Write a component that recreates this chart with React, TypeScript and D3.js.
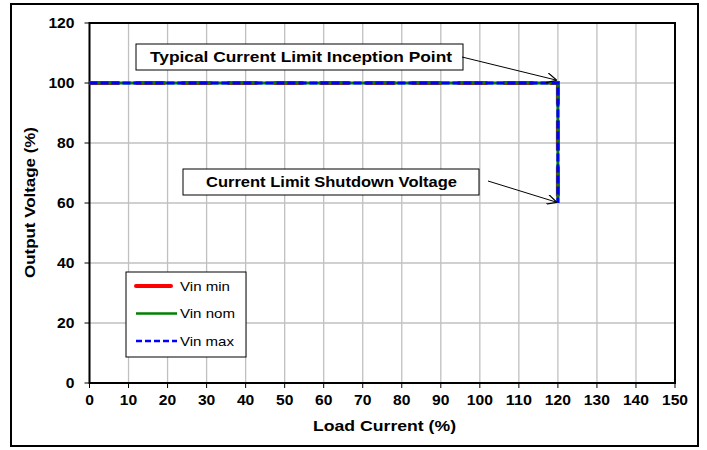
import * as d3 from "d3";

const xTicks = d3.range(0, 151, 10);
const yTicks = [0, 20, 40, 60, 80, 100, 120];

const loadCurrent = [0, 120, 120];
const vinMin = [100, 100, 60];
const vinNom = [100, 100, 60];
const vinMax = [100, 100, 60];

const seriesNames = ["Vin min", "Vin nom", "Vin max"];

const W = 707;
const H = 450;
const left = 89.5;
const right = 675;
const top = 23;
const bottom = 383;
const font = "'Liberation Sans', Arial, sans-serif";

export default function App() {
  const x = d3.scaleLinear().domain([0, 150]).range([left, right]);
  const y = d3.scaleLinear().domain([0, 120]).range([bottom, top]);
  const line = d3
    .line<number>()
    .x((_, i) => x(loadCurrent[i]))
    .y((d) => y(d));

  const styles = [
    { stroke: "#ff0000", width: 4, dash: "30,16" },
    { stroke: "#008000", width: 3, dash: "none" },
    { stroke: "#0000ff", width: 3, dash: "8,3" },
  ];
  const data = [vinMin, vinNom, vinMax];
  const legendLen = [50, 55, 54];

  return (
    <svg
      width={W}
      height={H}
      style={{ position: "absolute", left: 0, top: 0, fontFamily: font }}
    >
      <rect x={0} y={0} width={W} height={H} fill="#fff" />
      <rect x={11} y={4} width={687} height={442} fill="none" stroke="#000" strokeWidth={2} />

      {/* grid */}
      {xTicks.map((t) => (
        <line key={"gx" + t} x1={x(t)} x2={x(t)} y1={top} y2={bottom} stroke="#c0c0c0" strokeWidth={1.3} />
      ))}
      {yTicks.map((t) => (
        <line key={"gy" + t} x1={left} x2={right} y1={y(t)} y2={y(t)} stroke="#c0c0c0" strokeWidth={1.3} />
      ))}
      <rect x={left} y={top} width={right - left} height={bottom - top} fill="none" stroke="#000" strokeWidth={2} />

      {/* ticks */}
      {xTicks.map((t) => (
        <g key={"tx" + t}>
          <line x1={x(t)} x2={x(t)} y1={bottom} y2={bottom + 5} stroke="#000" />
          <text
            x={x(t)}
            y={bottom + 22}
            textAnchor="middle"
            fontSize={14}
            fontWeight="bold"
            textLength={String(t).length * 8.7}
            lengthAdjust="spacingAndGlyphs"
          >
            {t}
          </text>
        </g>
      ))}
      {yTicks.map((t) => (
        <g key={"ty" + t}>
          <line x1={left - 5} x2={left} y1={y(t)} y2={y(t)} stroke="#000" />
          <text
            x={left - 15}
            y={y(t) + 5}
            textAnchor="end"
            fontSize={14}
            fontWeight="bold"
            textLength={String(t).length * 8.7}
            lengthAdjust="spacingAndGlyphs"
          >
            {t}
          </text>
        </g>
      ))}

      <text
        x={384.5}
        y={431}
        textAnchor="middle"
        fontSize={15.5}
        fontWeight="bold"
        textLength={143}
        lengthAdjust="spacingAndGlyphs"
      >
        Load Current (%)
      </text>
      <text
        transform={`translate(35,202.5) rotate(-90)`}
        textAnchor="middle"
        fontSize={14.5}
        fontWeight="bold"
        textLength={151}
        lengthAdjust="spacingAndGlyphs"
      >
        Output Voltage (%)
      </text>

      {/* series */}
      {data.map((d, i) => (
        <path
          key={seriesNames[i]}
          d={line(d) || ""}
          fill="none"
          stroke={styles[i].stroke}
          strokeWidth={styles[i].width}
          strokeDasharray={styles[i].dash}
        />
      ))}

      {/* annotations */}
      <defs>
        <marker id="arr" viewBox="0 0 10 10" refX={9} refY={5} markerWidth={10} markerHeight={10} orient="auto" markerUnits="userSpaceOnUse">
          <path d="M0,0 L10,5 L0,10" fill="none" stroke="#000" strokeWidth={1.2} />
        </marker>
      </defs>
      <rect x={136} y={44} width={327} height={26} fill="#fff" stroke="#000" strokeWidth={1} />
      <text
        x={301}
        y={62}
        textAnchor="middle"
        fontSize={15}
        fontWeight="bold"
        textLength={302}
        lengthAdjust="spacingAndGlyphs"
      >
        Typical Current Limit Inception Point
      </text>
      <line x1={462} y1={57} x2={x(120) - 2} y2={y(100) - 3} stroke="#000" markerEnd="url(#arr)" />

      <rect x={183} y={169} width={296} height={26} fill="#fff" stroke="#000" strokeWidth={1} />
      <text
        x={331.5}
        y={187}
        textAnchor="middle"
        fontSize={15}
        fontWeight="bold"
        textLength={251}
        lengthAdjust="spacingAndGlyphs"
      >
        Current Limit Shutdown Voltage
      </text>
      <line x1={488} y1={181} x2={x(120) - 2} y2={y(60) - 1} stroke="#000" markerEnd="url(#arr)" />

      {/* legend */}
      <rect x={126} y={272} width={120} height={85} fill="#fff" stroke="#000" strokeWidth={1} />
      {seriesNames.map((n, i) => (
        <g key={"lg" + n}>
          <line
            x1={136}
            x2={i === 0 ? 171 : 177}
            y1={286 + i * 27.5}
            y2={286 + i * 27.5}
            stroke={styles[i].stroke}
            strokeWidth={i === 0 ? 4 : 2.5}
            strokeDasharray={i === 2 ? "6,3" : "none"}
            strokeLinecap={i === 0 ? "round" : "butt"}
          />
          <text
            x={180}
            y={290.5 + i * 27.5}
            fontSize={13}
            textLength={legendLen[i]}
            lengthAdjust="spacingAndGlyphs"
          >
            {n}
          </text>
        </g>
      ))}
    </svg>
  );
}
